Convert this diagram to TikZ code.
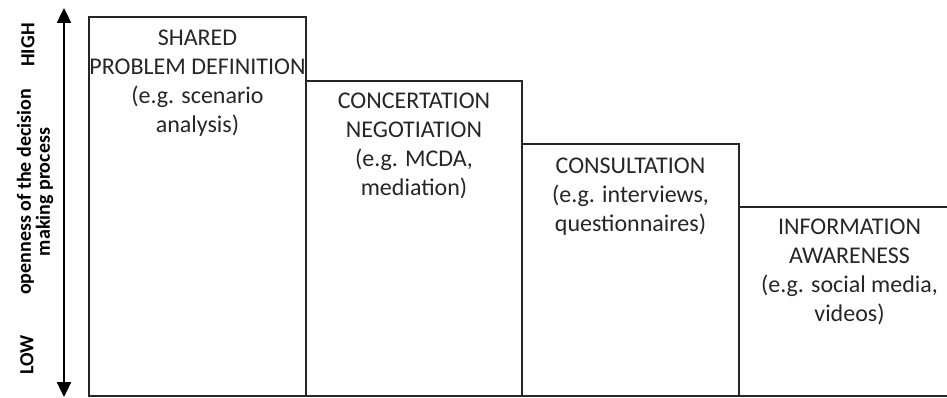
\documentclass[tikz,border=0pt]{standalone}
\usepackage{fontspec}
\setmainfont{Carlito}
\usepackage{tikz}
\usetikzlibrary{arrows.meta, positioning}

\begin{document}
\begin{tikzpicture}[x=1pt, y=-1pt,
		stage/.style={draw=black!85, line width=1.5pt, inner sep=0pt, outer sep=0pt},
		txt/.style={text=black!85, font=\fontsize{24}{29}\selectfont, align=center, anchor=north, inner sep=0pt},
		axislbl/.style={text=black, font=\fontsize{20}{19}\selectfont\bfseries, rotate=90, align=center},
		axis/.style={{Triangle[length=15pt, width=14pt]}-{Triangle[length=15pt, width=14pt]}, line width=2.4pt}
	]
	\useasboundingbox (0, 0) rectangle (947, 398);

	% Stages
	\node[stage, minimum width=217pt, minimum height=379pt] (s1) at (197.5, 206.5) {};
	\node[stage, minimum width=216pt, minimum height=315pt] (s2) at (414, 238.5) {};
	\node[stage, minimum width=217pt, minimum height=252pt] (s3) at (630.5, 270) {};
	\node[stage, minimum width=221pt, minimum height=189pt] (s4) at (849.5, 301.5) {};

	\node[txt, below=13pt of s1.north] (t1) {SHARED\\PROBLEM DEFINITION\\(e.g. scenario\\analysis)};
	\node[txt, below=12pt of s2.north] (t2) {CONCERTATION\\NEGOTIATION\\(e.g. MCDA,\\mediation)};
	\node[txt, below=14pt of s3.north] (t3) {CONSULTATION\\(e.g. interviews,\\questionnaires)};
	\node[txt, below=12pt of s4.north] (t4) {INFORMATION\\AWARENESS\\(e.g. social media,\\videos)};

	% Openness axis
	\coordinate (top) at (64, 8);
	\coordinate (bot) at (64, 397);
	\draw[axis] (bot) -- (top);
	\node[axislbl] (high) at (28, 45) {HIGH};
	\node[axislbl] (low) at (27, 355) {LOW};
	\node[axislbl] (lbl) at (35, 192) {openness of the decision\\making process};
\end{tikzpicture}
\end{document}
